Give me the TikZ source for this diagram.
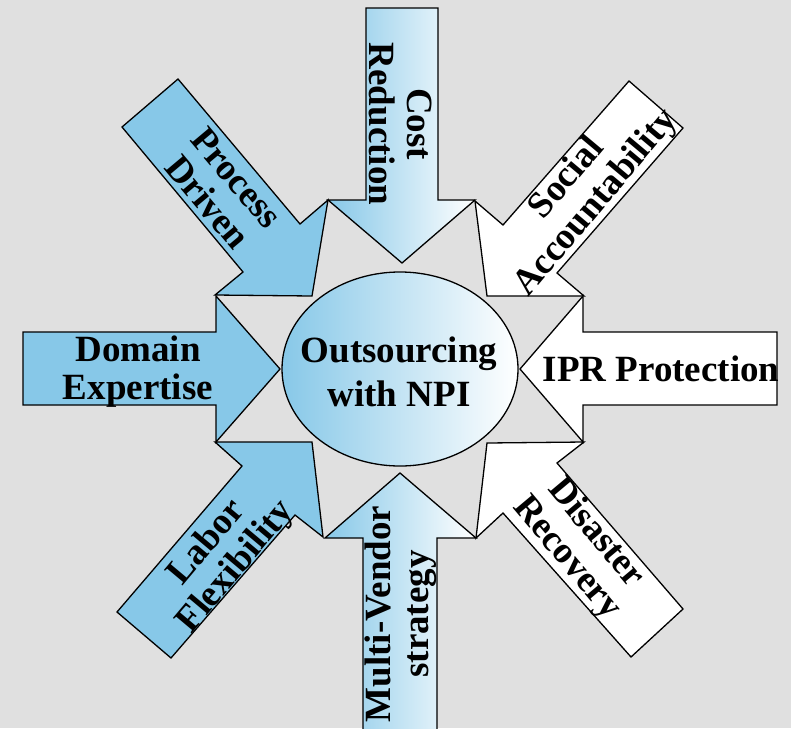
\documentclass[tikz,border=0pt]{standalone}
\usepackage{fontspec}
\setmainfont{Liberation Serif}
\usetikzlibrary{shapes.geometric}
\definecolor{bgc}{RGB}{224,224,224}
\definecolor{skyb}{RGB}{135,200,232}
\tikzset{
  arr/.style={draw=black, line width=1.3pt, line join=miter},
  bluearr/.style={arr, fill=skyb},
  whitearr/.style={arr, fill=white},
  gradarr/.style={arr, left color=skyb, right color=white},
  lbl/.style={font=\fontsize{37}{38}\selectfont\bfseries, align=center, inner sep=0pt},
  hublbl/.style={font=\fontsize{37}{44}\selectfont\bfseries, align=center, inner sep=0pt},
}
\begin{document}
\begin{tikzpicture}[x=1pt,y=-1pt]
\fill[bgc] (0,0) rectangle (791,728);
\useasboundingbox (0,0) rectangle (791,728);
\clip (0,0) rectangle (791,728);
% Cost Reduction (down)
\draw[gradarr] (366,8) -- (438,8) -- (438,200) -- (475,200) -- (402,263) -- (328,200) -- (366,200) -- cycle;
% Multi-Vendor (up)
\draw[gradarr] (363,740) -- (363,538) -- (325,538) -- (400,473) -- (476,538) -- (437,538) -- (437,740);
% Domain Expertise (right)
\draw[bluearr] (23,332) -- (216,332) -- (216,296) -- (280,369) -- (216,442) -- (216,405) -- (23,405) -- cycle;
% IPR Protection (left)
\draw[whitearr] (777,332) -- (583,332) -- (583,296) -- (520,369) -- (583,442) -- (583,405) -- (777,405) -- cycle;
% Process Driven
\draw[bluearr] (178,79) -- (300,224) -- (328,200) -- (312,296) -- (215,295) -- (243,272) -- (122,127) -- cycle;
% Social Accountability
\draw[whitearr] (629,81) -- (683,128) -- (557,273) -- (584,296) -- (487,296) -- (475,201) -- (503,225) -- cycle;
% Labor Flexibility
\draw[bluearr] (117,612) -- (171,658) -- (295,515) -- (323,537) -- (312,442) -- (215,442) -- (242,466) -- cycle;
% Disaster Recovery
\draw[whitearr] (683,609) -- (631,657) -- (503,513) -- (476,538) -- (487,443) -- (584,442) -- (557,463) -- cycle;
% hub
\node[draw=black, line width=1.3pt, ellipse, left color=skyb, right color=white,
      minimum width=236pt, minimum height=194pt, inner sep=0pt] (hub) at (400,369) {};
\node[hublbl] (hubtext) at (399,372) {Outsourcing\\with NPI};
% labels
\node[lbl, rotate=-90] (cost) at (401,124) {Cost\\Reduction};
\node[lbl, rotate=90] (multi) at (401,614) {Multi-Vendor\\strategy};
\node[lbl] (domain) at (138,372) {Domain\\Expertise};
\node[lbl] (ipr) at (661,369) {IPR Protection};
\node[lbl, rotate=-50] (process) at (222,190) {Process\\Driven};
\node[lbl, rotate=50] (social) at (582,191) {Social\\Accountability};
\node[lbl, rotate=50] (labor) at (222,555) {Labor\\Flexibility};
\node[lbl, rotate=-50] (disaster) at (581,546) {Disaster\\Recovery};
\end{tikzpicture}
\end{document}
